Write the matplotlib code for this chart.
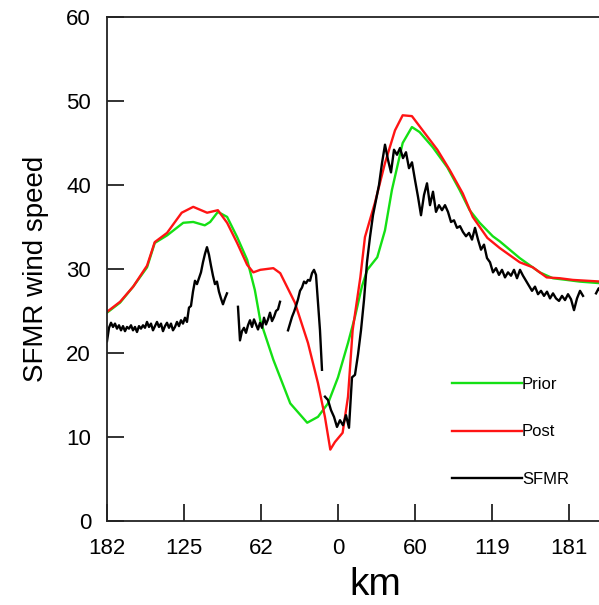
import numpy as np
import matplotlib
matplotlib.use("Agg")
import matplotlib.pyplot as plt

plt.rcParams['font.family'] = ['Liberation Sans', 'DejaVu Sans']

# Along-track positions (tick index units) and distance labels
tick_pos = [0, 1, 2, 3, 4, 5, 6]
tick_labels = ['182', '125', '62', '0', '60', '119', '181']

# Model wind speed before assimilation
prior_x = [0.00, 0.17, 0.34, 0.52, 0.62, 0.78, 0.99, 1.12, 1.27, 1.34, 1.44, 1.56,
           1.69, 1.82, 1.92, 1.99, 2.16, 2.38, 2.60, 2.74, 2.87, 3.00, 3.13, 3.22,
           3.31, 3.38, 3.51, 3.61, 3.70, 3.84, 3.96, 4.06, 4.23, 4.42, 4.58, 4.71,
           4.84, 5.01, 5.10, 5.36, 5.62, 5.79, 5.97, 6.14, 6.42]
prior_y = [24.8, 26.0, 27.9, 30.2, 33.1, 34.0, 35.5, 35.6, 35.2, 35.6, 36.8, 36.2,
           33.8, 31.1, 27.5, 23.9, 19.2, 14.0, 11.7, 12.4, 14.0, 17.1, 21.2, 24.3,
           27.9, 29.9, 31.4, 34.6, 39.4, 45.0, 46.9, 46.3, 44.5, 42.1, 39.4, 37.0,
           35.5, 33.9, 33.3, 31.3, 29.6, 28.9, 28.7, 28.5, 28.3]

# Model wind speed after assimilation
post_x = [0.00, 0.17, 0.34, 0.52, 0.62, 0.78, 0.97, 1.12, 1.30, 1.44, 1.56, 1.69,
          1.82, 1.90, 1.99, 2.16, 2.25, 2.44, 2.61, 2.74, 2.83, 2.90, 2.96, 3.06,
          3.13, 3.19, 3.29, 3.35, 3.48, 3.61, 3.74, 3.84, 3.96, 4.10, 4.29, 4.45,
          4.62, 4.75, 4.94, 5.10, 5.36, 5.53, 5.71, 5.88, 6.05, 6.42]
post_y = [24.9, 26.1, 27.9, 30.4, 33.2, 34.3, 36.7, 37.4, 36.7, 37.0, 35.5, 33.1,
          30.5, 29.6, 29.9, 30.1, 29.5, 26.0, 21.2, 16.4, 12.4, 8.5, 9.4, 10.5,
          14.8, 22.7, 29.0, 33.8, 37.9, 42.6, 46.5, 48.3, 48.2, 46.5, 44.2, 41.8,
          39.0, 36.2, 33.7, 32.5, 30.8, 30.2, 29.0, 28.9, 28.7, 28.5]

# SFMR observations: evenly sampled pieces (start, end, values), gaps between them
sfmr_seg1 = (0.000, 1.558, [
    21.4, 23.0, 23.6, 23.1, 23.5, 22.9, 23.3, 22.7, 23.2, 22.6,
    23.1, 22.9, 23.3, 22.7, 23.1, 22.5, 23.2, 22.9, 23.3, 23.0,
    23.7, 23.1, 23.5, 22.7, 23.2, 23.7, 23.1, 23.5, 22.6, 23.2,
    23.6, 23.0, 23.5, 22.7, 23.1, 23.7, 23.2, 23.9, 23.5, 24.2,
    23.7, 25.4, 25.6, 27.3, 28.6, 28.2, 28.9, 29.6, 30.8, 31.8,
    32.6, 31.7, 30.4, 29.2, 28.2, 28.5, 27.3, 26.5, 25.8, 26.5,
    27.1])
sfmr_seg2 = (1.701, 2.247, [
    25.5, 21.5, 22.6, 23.0, 22.4, 23.3, 23.9, 23.1, 24.0, 23.4,
    22.8, 23.6, 23.0, 24.2, 23.4, 24.0, 24.8, 23.8, 24.3, 25.0,
    25.2, 26.1])
sfmr_seg3 = (2.351, 2.792, [
    22.7, 23.5, 24.3, 24.9, 25.6, 26.4, 27.4, 27.8, 28.5, 28.3,
    28.7, 28.6, 29.5, 29.9, 29.3, 26.0, 22.7, 18.0])
sfmr_seg4 = (2.831, 6.182, [
    14.8, 14.4, 13.2, 12.4, 11.2, 12.0, 11.4, 12.6, 11.1, 17.1,
    17.4, 19.8, 22.7, 26.3, 30.8, 33.8, 36.4, 38.2, 40.0, 42.6,
    44.8, 43.0, 41.5, 44.2, 43.6, 44.4, 43.2, 43.9, 42.0, 42.7,
    40.6, 38.6, 36.4, 38.8, 40.2, 37.6, 39.2, 36.8, 37.6, 37.0,
    37.6, 36.8, 35.6, 35.8, 34.9, 35.1, 34.4, 33.9, 34.3, 33.5,
    34.9, 33.5, 32.3, 32.9, 31.3, 30.8, 29.6, 30.1, 29.3, 29.9,
    29.0, 29.6, 29.2, 29.9, 28.9, 29.9, 29.2, 28.6, 28.0, 27.4,
    27.9, 27.0, 27.4, 26.8, 27.3, 26.5, 27.1, 26.5, 26.2, 26.8,
    26.3, 27.0, 26.4, 25.1, 26.5, 27.4, 26.8])
sfmr_seg5 = (6.351, 6.420, [27.1, 27.7, 27.3])

sfmr_x, sfmr_y = [], []
for x0, x1, vals in (sfmr_seg1, sfmr_seg2, sfmr_seg3, sfmr_seg4, sfmr_seg5):
    sfmr_x.extend(np.linspace(x0, x1, len(vals)))
    sfmr_y.extend(vals)
    sfmr_x.append(np.nan)
    sfmr_y.append(np.nan)

W, H = 599, 605
fig = plt.figure(figsize=(W / 100, H / 100), dpi=100)
ax = fig.add_axes([107 / W, 84 / H, 536 / W, 504 / H])

lw = 1.7
l_prior, = ax.plot(prior_x, prior_y, color='#14e014', lw=lw, label='Prior')
l_post, = ax.plot(post_x, post_y, color='#ff1414', lw=lw, label='Post')
l_sfmr, = ax.plot(sfmr_x, sfmr_y, color='black', lw=lw, label='SFMR')

ax.set_xlim(0, 536 / 77)
ax.set_ylim(0, 60)
ax.set_xticks(tick_pos)
ax.set_xticklabels(tick_labels)
ax.set_yticks([0, 10, 20, 30, 40, 50, 60])

for side in ('left', 'bottom', 'top', 'right'):
    ax.spines[side].set_linewidth(1.3)
    ax.spines[side].set_color('#222222')

ax.tick_params(axis='both', direction='in', length=12, width=1.3,
               color='#222222', labelsize=16)
ax.tick_params(axis='y', pad=11.5)
ax.tick_params(axis='x', pad=12)

ax.set_ylabel('SFMR wind speed', fontsize=20, labelpad=12)
ax.set_xlabel('km', fontsize=28, labelpad=6)

leg = ax.legend(handles=[l_prior, l_post, l_sfmr], loc='upper left',
                bbox_to_anchor=(452 / W, 1 - 377 / H),
                bbox_transform=fig.transFigure, frameon=False,
                borderpad=0, borderaxespad=0, handlelength=4.2,
                handletextpad=0, labelspacing=1.95, fontsize=12)

fig.savefig('out.png', dpi=100)
